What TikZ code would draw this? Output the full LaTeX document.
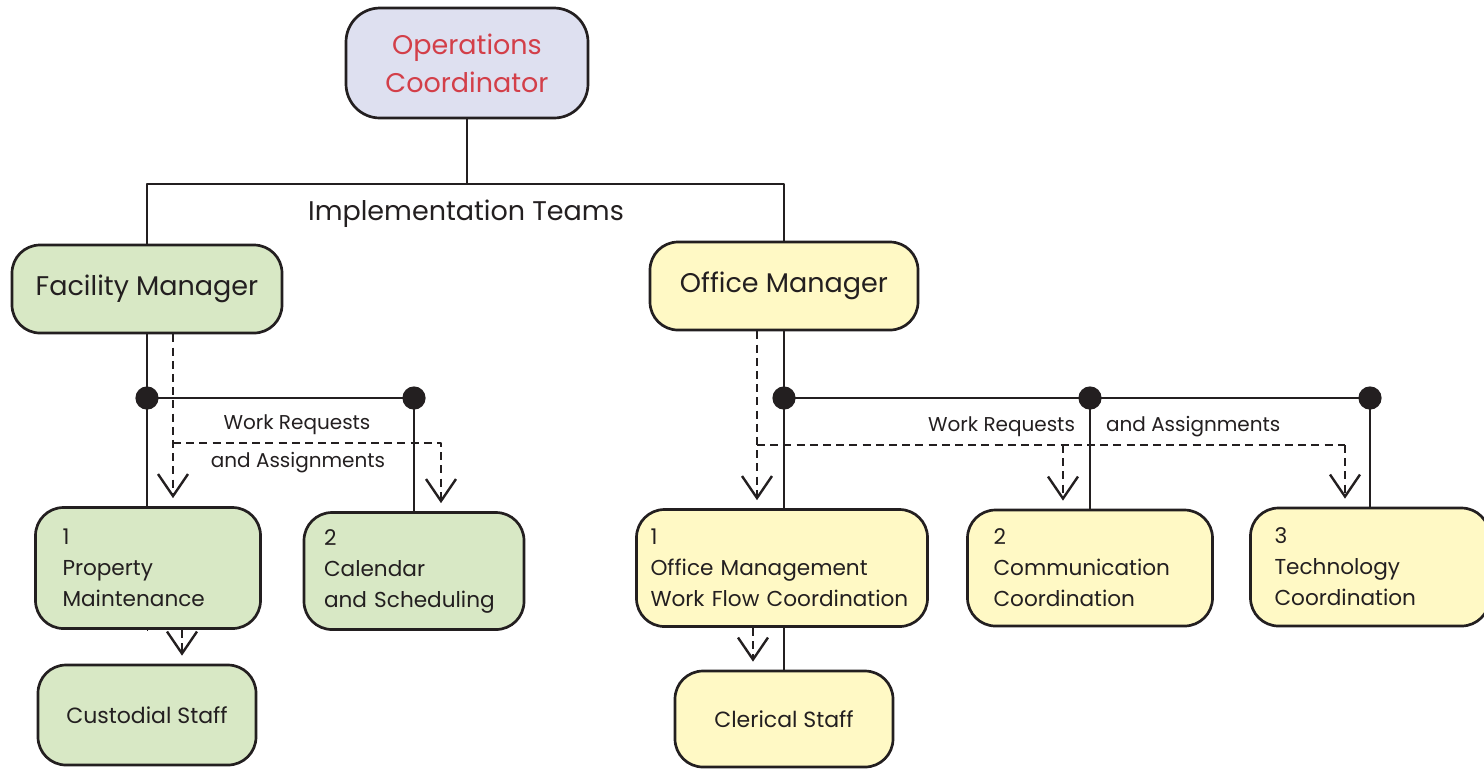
\documentclass[tikz,border=0pt]{standalone}
\usepackage{fontspec}
\setmainfont{Poppins}
\usepackage{xcolor}
\usetikzlibrary{arrows.meta}
\usetikzlibrary{positioning}
\definecolor{inkline}{HTML}{231F20}
\definecolor{coordred}{HTML}{D33F49}
\definecolor{coordfill}{HTML}{DEE0F0}
\definecolor{facfill}{HTML}{D8E8C5}
\definecolor{offfill}{HTML}{FFF9C5}
\hyphenpenalty=10000
\exhyphenpenalty=10000
\begin{document}
\begin{tikzpicture}[line cap=butt,line join=round, x=0.5pt,y=-0.5pt,
	box/.style={draw=inkline, line width=1.35pt, rounded corners=14pt, text=inkline, inner sep=0pt},
	teambox/.style={box, align=left, font=\fontsize{10.8}{15.5}\selectfont},
	link/.style={draw=inkline, line width=1.35pt},
	flow/.style={draw=inkline, line width=1.2pt, dash pattern=on 4pt off 2.6pt, -{Straight Barb[length=11pt, width=15pt, line width=1.2pt]}, shorten >=4pt},
	flowline/.style={draw=inkline, line width=1.2pt, dash pattern=on 4pt off 2.6pt},
	small/.style={text=inkline, font=\fontsize{10}{12}\selectfont}]
\useasboundingbox (0,0) rectangle (1484,768);
% top
\node[box, fill=coordfill, rounded corners=17pt, minimum width=121pt, minimum height=55pt, align=center, text=coordred, font=\fontsize{13.5}{19}\selectfont] (ops) at (467,63) {Operations\\Coordinator};
\node[text=inkline, font=\fontsize{13.5}{16}\selectfont] (teams) at (466,214) {Implementation Teams};
% managers
\node[box, fill=facfill, minimum width=135pt, minimum height=44pt, font=\fontsize{13.5}{16}\selectfont] (fac) at (147,289) {Facility Manager};
\node[box, fill=offfill, minimum width=134pt, minimum height=44pt, font=\fontsize{13.5}{16}\selectfont] (off) at (784,286) {Office Manager};
% facility teams
\node[teambox, fill=facfill, inner xsep=13.5pt, minimum height=60.5pt, text width=85.5pt] (prop) at (148,568) {1\\Property\\Maintenance};
\node[teambox, fill=facfill, inner xsep=10pt, minimum height=58.5pt, text width=90pt] (cal) at (414,571) {2\\Calendar\\and Scheduling};
\node[box, fill=facfill, minimum width=109pt, minimum height=50pt, font=\fontsize{11}{15}\selectfont] (cust) at (147,715) {Custodial Staff};
% office teams
\node[teambox, fill=offfill, inner xsep=7pt, minimum height=58.5pt, text width=131.5pt] (omw) at (782,568) {1\\Office Management\\Work Flow Coordination};
\node[teambox, fill=offfill, inner xsep=13pt, minimum height=58pt, text width=96.5pt] (comm) at (1090,568) {2\\Communication\\Coordination};
\node[teambox, fill=offfill, inner xsep=12pt, minimum height=59pt, text width=95.5pt] (tech) at (1370,567) {3\\Technology\\Coordination};
\node[box, fill=offfill, minimum width=109pt, minimum height=48pt, font=\fontsize{11}{15}\selectfont] (cler) at (784,719) {Clerical Staff};
% junctions
\coordinate (top) at (467,184);
\coordinate (fj) at (147,398);
\coordinate (oj) at (784,398);
\coordinate (fw) at (173,443);
\coordinate (ow) at (757,445);
% solid tree
\draw[link] (ops.south) -- (top);
\draw[link] (fac.north) |- (top) -| (off.north);
\draw[link] (fac.south) -- (fj) -- (fj |- prop.north);
\draw[link] (fj) -- (fj -| cal.north) -- (cal.north);
\draw[link] (off.south) -- (oj) -- (oj |- omw.north);
\draw[link] (oj) -- (oj -| tech.north) -- (tech.north);
\draw[link] (oj -| comm.north) -- (comm.north);
\draw[link] (prop.south) -- (prop.south -| cust.north);
\draw[link] (omw.south -| cler.north) -- (cler.north);
\foreach \j in {fj, oj}
\fill[inkline] (\j) circle (5.8pt);
\fill[inkline] (fj -| cal.north) circle (5.8pt);
\fill[inkline] (oj -| comm.north) circle (5.8pt);
\fill[inkline] (oj -| tech.north) circle (5.8pt);
% work requests
\draw[flow] (fw |- fac.south) -- (fw |- prop.north);
\draw[flow] (fw) -| ([xshift=13.5pt]cal.north);
\draw[flow] (ow |- off.south) -- (ow |- omw.north);
\draw[flowline] (ow) -- ([xshift=-12.5pt]ow -| tech.north);
\draw[flow] ([xshift=-13.5pt]ow -| comm.north) -- ([xshift=-13.5pt]comm.north);
\draw[flow] ([xshift=-12.5pt]ow -| tech.north) -- ([xshift=-12.5pt]tech.north);
\draw[flow] ([xshift=17pt]prop.south) -- ([xshift=17pt]prop.south |- cust.north);
\draw[flow] ([xshift=-15.5pt]omw.south -| cler.north) -- ([xshift=-15.5pt]cler.north);
% labels
\node[small] (wrf) at (297,425) {Work Requests};
\node[small] (waf) at (298,463) {and Assignments};
\node[small, anchor=east] (wro) at (1082,427) {Work Requests};
\node[small, anchor=west] (wao) at (1099,427) {and Assignments};
\end{tikzpicture}
\end{document}
